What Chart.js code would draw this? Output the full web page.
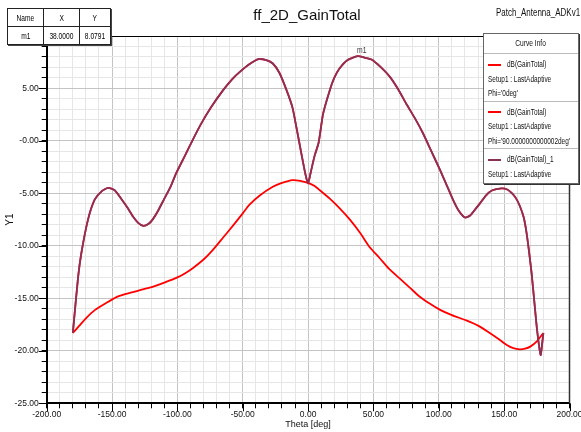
<!DOCTYPE html>
<html>
<head>
<meta charset="utf-8">
<script src="https://cdn.jsdelivr.net/npm/chart.js@4"></script>
<style>
  body { margin: 0; background: #fff; }
  #wrap { position: relative; width: 581px; height: 432px; overflow: hidden;
          font-family: 'Liberation Sans', Arial, sans-serif; }
  #chart { position: absolute; left: 0; top: 0; }
  .nar { display: inline-block; transform: scaleX(0.76); transform-origin: left center; white-space: nowrap; }
  .title { position: absolute; left: 207px; width: 200px; top: 6px; text-align: center;
           font-size: 15px; color: #111; }
  .project { position: absolute; right: 1px; top: 7px; font-size: 10px; color: #111;
             transform: scaleX(0.8); transform-origin: right center; }
  table.mk { position: absolute; left: 7px; top: 8px; border-collapse: collapse; background: #fff;
             box-shadow: 1px 1px 0 #444; }
  table.mk td { border: 1px solid #222; font-size: 8.5px; text-align: center; height: 17px; padding: 0; }
  table.mk td span { display: inline-block; transform: scaleX(0.78); }
  #legend { position: absolute; left: 483px; top: 33px; width: 94px; height: 149px; background: #fff;
            border: 1px solid #666; box-shadow: 1px 1px 0 #333; font-size: 8.5px; color: #111; }
  #legend .hd { height: 19px; line-height: 19px; text-align: center; border-bottom: 1px solid #bbb; }
  #legend .hd span { display: inline-block; transform: scaleX(0.78); }
  #legend .en { border-bottom: 1px solid #bbb; padding: 3px 0 0 4px; }
  #legend .en:last-child { border-bottom: none; }
  #legend .row { height: 14.5px; line-height: 14.5px; white-space: nowrap; }
  #legend .sw { display: inline-block; width: 13px; height: 2px; vertical-align: middle; margin-right: 6px; }
  .m1 { position: absolute; left: 357px; top: 45px; font-size: 8.5px; color: #333;
        transform: scaleX(0.8); transform-origin: left center; }
</style>
</head>
<body>
<div id="wrap">
  <canvas id="chart" width="581" height="432"></canvas>
  <div class="title">ff_2D_GainTotal</div>
  <div class="project">Patch_Antenna_ADKv1</div>
  <table class="mk">
    <tr><td style="width:35px"><span>Name</span></td><td style="width:35px"><span>X</span></td><td style="width:30px"><span>Y</span></td></tr>
    <tr><td><span>m1</span></td><td><span>38.0000</span></td><td><span>8.0791</span></td></tr>
  </table>
  <div class="m1">m1</div>
  <div id="legend">
    <div class="hd"><span>Curve Info</span></div>
    <div class="en">
      <div class="row"><span class="sw" style="background:#ff0000"></span><span class="nar">dB(GainTotal)</span></div>
      <div class="row"><span class="nar">Setup1 : LastAdaptive</span></div>
      <div class="row"><span class="nar">Phi='0deg'</span></div>
    </div>
    <div class="en">
      <div class="row"><span class="sw" style="background:#ff0000"></span><span class="nar">dB(GainTotal)</span></div>
      <div class="row"><span class="nar">Setup1 : LastAdaptive</span></div>
      <div class="row"><span class="nar">Phi='90.0000000000002deg'</span></div>
    </div>
    <div class="en">
      <div class="row"><span class="sw" style="background:#8b3158"></span><span class="nar">dB(GainTotal)_1</span></div>
      <div class="row"><span class="nar">Setup1 : LastAdaptive</span></div>
    </div>
  </div>
</div>
<script>
// Phi = 0deg cut (red)
const thetaPhi0 = [-180, -175, -170, -163, -154, -147, -140, -131, -125, -119, -110, -100, -94, -88, -80, -73,
  -65, -57, -50, -45, -37, -27, -20, -12, -6, 0, 5, 9, 16.6, 24, 32, 40, 47, 55, 62, 70, 78, 85, 93, 101,
  110, 121, 130, 139, 146, 152, 157, 162, 166, 170, 175, 180];
const gainPhi0 = [-18.3, -17.6, -16.9, -16.1, -15.4, -14.9, -14.6, -14.3, -14.1, -13.9, -13.5, -13.0, -12.6, -12.1, -11.3, -10.4,
  -9.2, -8.0, -6.9, -6.1, -5.2, -4.37, -4.0, -3.73, -3.8, -4.0, -4.3, -4.7, -5.5, -6.4, -7.5, -8.8, -10.1, -11.2, -12.2, -13.1, -14.0, -14.8, -15.5, -16.1,
  -16.6, -17.1, -17.6, -18.3, -18.9, -19.45, -19.75, -19.86, -19.8, -19.6, -19.1, -18.3];

// dB(GainTotal)_1 (purple); the Phi = 90deg cut lies under it
const thetaTotal1 = [-180, -176, -173.5, -168.4, -163.3, -158, -153, -148, -143, -138, -134, -130, -126, -122, -119, -115,
  -110, -105, -101, -94, -89, -82, -74, -65, -58, -52, -45, -38, -32, -27, -22, -16.5, -12, -9, -5, -2, 0, 2, 5, 8,
  11.5, 16.6, 20, 24, 30, 38, 43, 48.5, 55, 62.6, 69, 75, 82, 88, 94, 101, 106, 111, 115, 120, 124, 128, 131.5,
  136, 141, 148, 152, 155.7, 159, 162, 165, 167.2, 169, 171, 173, 175, 177, 178, 179, 180];
const gainTotal1 = [-18.3, -13.0, -10.7, -7.5, -5.6, -4.8, -4.47, -4.7, -5.5, -6.4, -7.2, -7.8, -8.1, -7.9, -7.5, -6.7,
  -5.5, -4.3, -3.1, -1.35, -0.08, 1.6, 3.25, 4.84, 5.9, 6.6, 7.3, 7.79, 7.7, 7.38, 6.5, 4.84, 3.2, 1.34, -1.3, -3.2, -4.05, -3.0, -1.4, -0.2,
  2.6, 4.84, 6.0, 6.9, 7.7, 8.08, 7.95, 7.76, 7.1, 6.1, 4.9, 3.57, 2.1, 0.71, -0.9, -2.78, -4.2, -5.64, -6.6, -7.29, -7.1, -6.5, -5.95,
  -5.2, -4.7, -4.52, -4.6, -4.95, -5.45, -6.2, -7.3, -8.8, -10.5, -12.6, -15.2, -17.8, -19.8, -20.4, -19.4, -18.3];

const xTicks = { min: -200, max: 200, step: 10, major: 50 };
const yTicks = { min: -25, max: 10, step: 1, major: 5 };

const pts = (xs, ys) => xs.map((x, i) => ({ x: x, y: ys[i] }));
const tickFont = { family: "'Liberation Sans', Arial, sans-serif", size: 8.5 };

// top/right frame and the longer major tick marks
const frame = {
  id: 'frame',
  afterDraw(chart) {
    const a = chart.chartArea, c = chart.ctx;
    const sx = chart.scales.x, sy = chart.scales.y;
    c.save();
    c.strokeStyle = '#000';
    c.lineWidth = 1;
    c.beginPath(); c.moveTo(a.left, a.top + 0.5); c.lineTo(a.right, a.top + 0.5); c.stroke();
    c.beginPath();
    for (let v = xTicks.min; v <= xTicks.max; v += xTicks.major) {
      const px = Math.round(sx.getPixelForValue(v)) + 0.5;
      c.moveTo(px, a.bottom); c.lineTo(px, a.bottom + 8);
    }
    for (let v = yTicks.min; v < yTicks.max; v += yTicks.major) {
      const py = Math.round(sy.getPixelForValue(v)) + 0.5;
      c.moveTo(a.left - 8, py); c.lineTo(a.left, py);
    }
    c.stroke();
    c.strokeStyle = '#333';
    c.lineWidth = 1.5;
    c.beginPath(); c.moveTo(a.right, a.top); c.lineTo(a.right, a.bottom); c.stroke();
    c.restore();
  }
};

new Chart(document.getElementById('chart').getContext('2d'), {
  type: 'line',
  data: {
    datasets: [
      { label: "dB(GainTotal) Phi='0deg'", data: pts(thetaPhi0, gainPhi0), borderColor: '#ff0000', borderWidth: 1.8, order: 2 },
      { label: "dB(GainTotal) Phi='90.0000000000002deg'", data: pts(thetaTotal1, gainTotal1), borderColor: '#ff0000', borderWidth: 1.8, order: 3 },
      { label: 'dB(GainTotal)_1', data: pts(thetaTotal1, gainTotal1), borderColor: '#8b3158', borderWidth: 1.8, order: 1 }
    ]
  },
  options: {
    responsive: false,
    animation: false,
    elements: { point: { radius: 0 }, line: { tension: 0.2 } },
    layout: { padding: { left: 0, top: 36, right: 11.5, bottom: 0 } },
    plugins: { legend: { display: false }, tooltip: { enabled: false } },
    scales: {
      x: {
        type: 'linear', min: xTicks.min, max: xTicks.max,
        afterFit: s => { s.height = 28.7; s.paddingLeft = 0; s.paddingRight = 0; },
        border: { color: '#000', width: 2 },
        grid: {
          color: c => (c.tick && c.tick.value % xTicks.major === 0) ? '#c4c4c4' : '#e6e6e6',
          tickColor: '#000', tickLength: 5
        },
        ticks: {
          stepSize: xTicks.step, autoSkip: false, maxRotation: 0, padding: 1, color: '#111', font: tickFont,
          callback: v => v % xTicks.major === 0 ? v.toFixed(2) : ''
        },
        title: { display: true, text: 'Theta [deg]', color: '#111', padding: { top: 0, bottom: 2 },
                 font: { family: tickFont.family, size: 9 } }
      },
      y: {
        min: yTicks.min, max: yTicks.max,
        afterFit: s => { s.width = 46.7; s.paddingTop = 0; s.paddingBottom = 0; },
        border: { color: '#000', width: 2 },
        grid: {
          color: c => (c.tick && c.tick.value % yTicks.major === 0) ? '#c4c4c4' : '#e6e6e6',
          tickColor: '#000', tickLength: 5
        },
        ticks: {
          stepSize: yTicks.step, autoSkip: false, padding: 3, color: '#111', font: tickFont,
          callback: v => (v % yTicks.major === 0 && v !== yTicks.max) ? (v === 0 ? '-0.00' : v.toFixed(2)) : ''
        },
        title: { display: true, text: 'Y1', color: '#111', padding: 4,
                 font: { family: tickFont.family, size: 10 } }
      }
    }
  },
  plugins: [frame]
});
</script>
</body>
</html>
